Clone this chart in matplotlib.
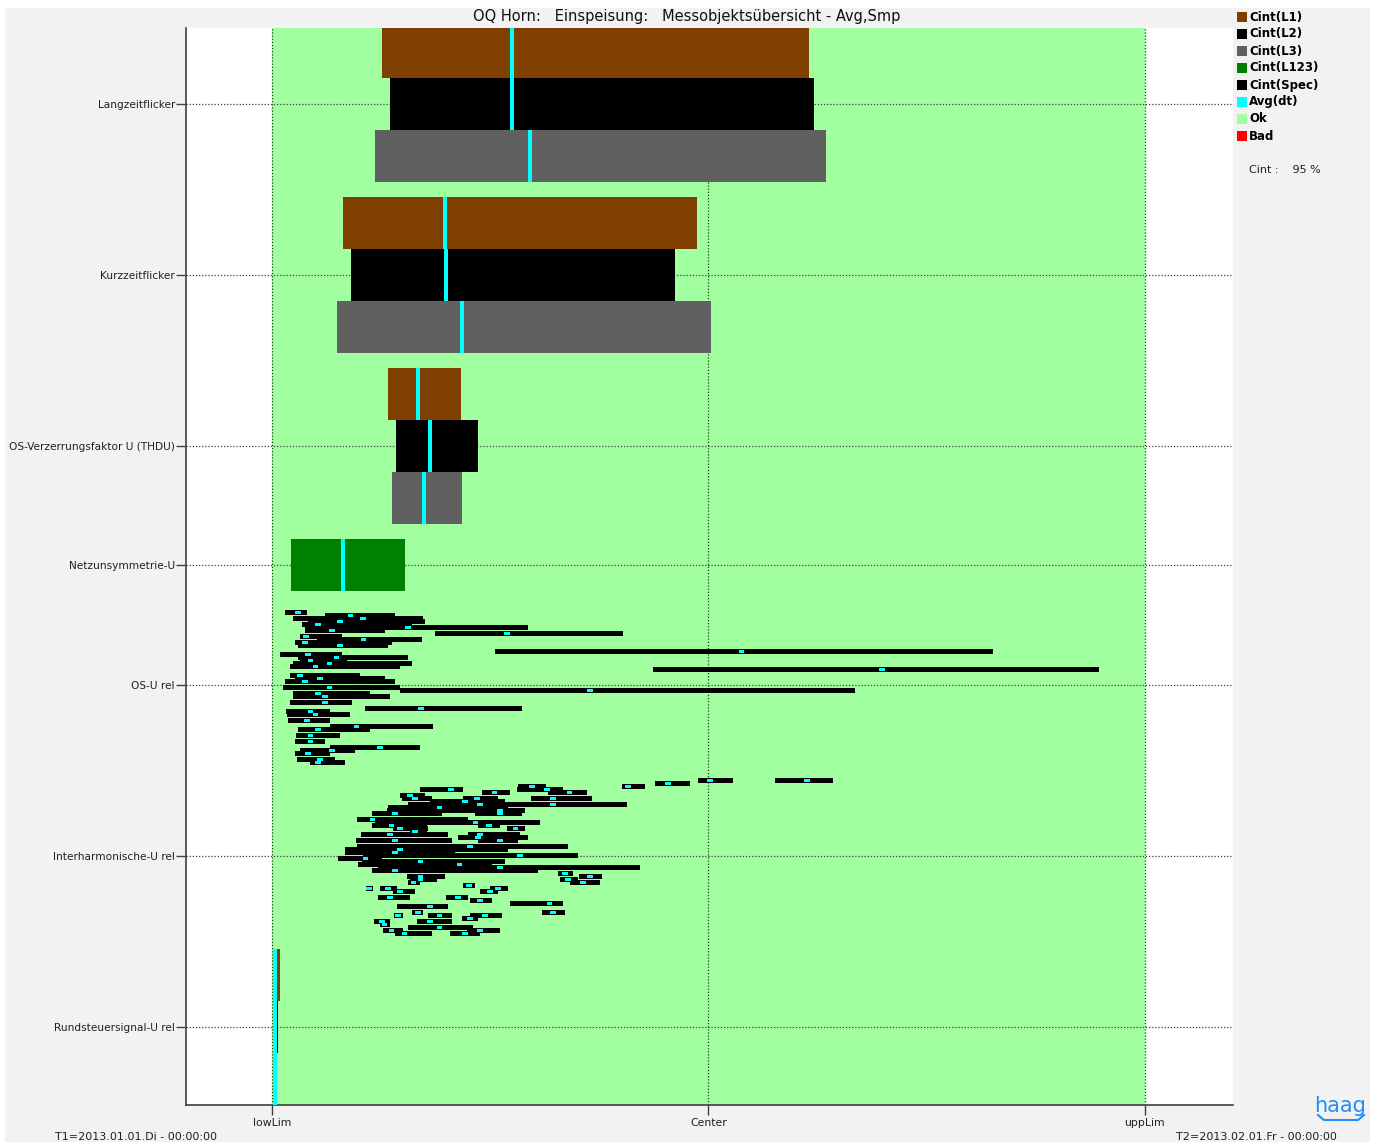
import numpy as np
import matplotlib.pyplot as plt
from matplotlib.patches import Rectangle
from matplotlib.lines import Line2D

# Messobjekte (von oben nach unten)
categories = ["Langzeitflicker", "Kurzzeitflicker", "OS-Verzerrungsfaktor U (THDU)",
              "Netzunsymmetrie-U", "OS-U rel", "Interharmonische-U rel",
              "Rundsteuersignal-U rel"]
xtick_labels = ["lowLim", "Center", "uppLim"]

# Werte in % des Grenzbereichs (lowLim = 0, uppLim = 100), Phasen L1, L2, L3
lz_lo = [12.6, 13.5, 11.8]
lz_hi = [61.5, 62.1, 63.5]
lz_avg = [27.5, 27.5, 29.6]

kz_lo = [8.1, 9.0, 7.4]
kz_hi = [48.7, 46.2, 50.3]
kz_avg = [19.8, 19.9, 21.8]

thd_lo = [13.3, 14.2, 13.7]
thd_hi = [21.6, 23.6, 21.8]
thd_avg = [16.7, 18.1, 17.4]

rs_lo = [0.1, 0.1, 0.1]
rs_hi = [0.9, 0.7, 0.4]
rs_avg = [0.4, 0.4, 0.4]

unb_lo = 2.2
unb_hi = 15.2
unb_avg = 8.1

# OS-U rel: Spektralbalken (Slot von oben, Min, Max, Mittel)
osu_slot = [1, 2, 3, 4, 5, 6, 7, 8, 9, 10, 11, 12, 14, 15, 16, 17, 18, 19, 20, 22,
            23, 24, 26, 27, 28, 29, 31, 33, 34, 35, 37, 39, 40, 42, 44, 46, 47, 48, 50, 51]
osu_lo = [1.5, 6.1, 2.4, 4.1, 3.4, 3.8, 3.8, 18.7, 3.2, 5.2, 2.6, 3.0, 25.5, 0.9, 3.0, 3.2,
          2.4, 2.1, 43.6, 2.1, 2.6, 1.5, 1.3, 14.7, 2.4, 2.4, 2.1, 10.7, 1.6, 1.7, 1.8,
          6.6, 3.0, 2.7, 2.6, 6.6, 3.2, 2.6, 2.9, 4.4]
osu_hi = [4.0, 14.1, 17.3, 17.5, 16.0, 29.3, 12.9, 40.2, 8.0, 17.2, 13.7, 13.3, 82.6, 8.0,
          15.6, 8.6, 16.0, 14.7, 94.7, 10.1, 12.9, 14.1, 14.7, 66.8, 11.2, 13.5, 9.2, 28.6,
          6.6, 8.9, 6.6, 18.4, 11.2, 7.8, 6.1, 17.0, 9.5, 6.6, 7.2, 8.4]
osu_avg = [3.0, 9.0, 10.4, 7.8, 5.3, 15.6, 6.9, 26.9, 3.9, 10.5, 3.8, 7.8, 53.8, 4.1,
           7.4, 4.4, 6.6, 5.0, 69.9, 3.2, 5.5, 3.8, 6.6, 36.4, 5.3, 6.1, 6.1, 17.1, 4.4,
           5.0, 4.0, 9.7, 5.3, 4.4, 4.4, 12.4, 6.9, 4.1, 5.5, 5.3]

# Interharmonische-U rel
ih_slot = [0, 0, 1, 2, 2, 3, 3, 4, 4, 5, 6, 6, 6, 7, 8, 8, 9, 10, 11, 11, 13, 14, 15, 15,
           16, 16, 17, 18, 18, 19, 20, 20, 22, 23, 24, 25, 26, 27, 28, 29, 30, 31, 32, 32,
           33, 33, 34, 34, 35, 36, 36, 36, 37, 37, 39, 39, 40, 41, 42, 44, 44, 45, 45, 45,
           46, 47, 47, 48, 49, 50, 50, 51, 51]
ih_lo = [48.8, 57.6, 43.9, 40.1, 28.2, 17.0, 28.1, 24.1, 31.6, 14.7, 21.9, 14.9, 29.7, 18.1,
         15.6, 29.8, 13.3, 13.2, 11.5, 23.3, 9.7, 11.8, 11.5, 23.6, 13.9, 26.9, 15.8, 10.2,
         22.5, 21.3, 9.6, 23.6, 9.7, 8.4, 8.4, 10.4, 7.6, 10.3, 9.9, 12.1, 11.5, 32.8, 15.5,
         35.2, 15.8, 33.0, 15.6, 34.1, 21.9, 10.8, 12.4, 25.0, 13.9, 23.8, 12.1, 19.9, 22.7,
         27.3, 14.3, 30.9, 16.0, 22.7, 17.9, 14.0, 21.8, 16.6, 11.7, 12.4, 15.6, 12.7, 22.3,
         14.1, 20.4]
ih_hi = [52.8, 64.3, 47.9, 42.7, 31.4, 21.9, 33.3, 27.3, 36.1, 17.5, 25.9, 18.3, 36.7, 26.7,
         31.5, 40.7, 27.0, 29.0, 19.5, 28.6, 22.5, 30.7, 17.8, 26.1, 17.9, 29.0, 17.8, 20.2,
         28.4, 29.3, 20.6, 28.2, 33.9, 27.0, 21.0, 35.1, 12.6, 26.7, 25.2, 42.2, 30.5, 34.5,
         19.8, 37.8, 18.9, 35.1, 17.0, 37.6, 23.3, 11.6, 14.3, 27.0, 16.4, 25.9, 15.8, 22.5,
         25.2, 33.3, 20.2, 33.6, 17.3, 26.3, 20.6, 15.0, 23.6, 20.6, 13.5, 13.5, 23.0, 15.0,
         26.1, 18.3, 23.8]
ih_avg = [50.2, 61.3, 45.4, 40.8, 29.8, 20.5, 31.5, 25.5, 34.1, 15.8, 23.5, 16.4, 32.2, 22.1,
          23.8, 32.2, 19.2, 26.1, 14.1, 26.1, 11.5, 23.3, 13.7, 24.9, 14.7, 27.9, 16.4, 13.5,
          23.8, 23.6, 14.1, 26.1, 22.7, 14.7, 14.1, 28.4, 10.7, 17.0, 21.5, 26.1, 14.1, 33.6,
          17.0, 36.4, 17.0, 33.9, 16.2, 35.6, 22.6, 11.1, 13.3, 25.9, 14.7, 25.0, 13.5, 21.3,
          23.8, 31.8, 18.1, 32.2, 16.7, 24.4, 19.2, 14.4, 22.7, 18.1, 12.6, 12.9, 19.2, 13.7,
          23.8, 15.2, 22.1]

legend_labels = ["Cint(L1)", "Cint(L2)", "Cint(L3)", "Cint(L123)", "Cint(Spec)",
                 "Avg(dt)", "Ok", "Bad"]

c_l1 = "#7f3f00"
c_l2 = "#000000"
c_l3 = "#606060"
c_l123 = "#008000"
c_spec = "#000000"
c_avg = "#00ffff"
c_ok = "#a2ffa0"
c_bad = "#ff0000"
legend_colors = [c_l1, c_l2, c_l3, c_l123, c_spec, c_avg, c_ok, c_bad]
phase_colors = [c_l1, c_l2, c_l3]

row_pos = [0, 1, 2, 2.7, 3.4, 4.4, 5.4]
bar_h = 0.304
avg_w = 0.46
spec_avg_w = 0.65
slot_step = 0.01755
spec_h = 0.026

plt.rcParams['font.family'] = ['DejaVu Sans']
fig = plt.figure(figsize=(13.75, 11.42), dpi=100, facecolor="white")
fig.patches.append(Rectangle((5 / 1375, 0), 1365 / 1375, 1 - 8 / 1142,
                             transform=fig.transFigure, facecolor="#f2f2f2",
                             edgecolor="none", zorder=-10))
ax = fig.add_axes([186 / 1375, 1 - 1105 / 1142, 1047 / 1375, 1077 / 1142])
ax.set_facecolor("white")

ax.set_xlim(-9.85, 110.1)
ax.set_ylim(5.857, -0.445)

# Ok-Bereich
ax.axvspan(0, 100, color=c_ok, zorder=0, lw=0)
for xv in [0, 50, 100]:
    ax.axvline(xv, color="#1f3f1f", lw=0.9, ls=(0, (1, 1.5)), zorder=1)
for yv in row_pos:
    ax.axhline(yv, color="#404040", lw=0.9, ls=(0, (1, 1.5)), zorder=1)


def phase_bars(center, lo, hi, avg):
    for k in range(3):
        yc = center + (k - 1) * bar_h
        ax.barh(yc, hi[k] - lo[k], left=lo[k], height=bar_h,
                color=phase_colors[k], lw=0, zorder=2)
        ax.barh(yc, avg_w, left=avg[k] - avg_w / 2, height=bar_h,
                color=c_avg, lw=0, zorder=3)


phase_bars(row_pos[0], lz_lo, lz_hi, lz_avg)
phase_bars(row_pos[1], kz_lo, kz_hi, kz_avg)
phase_bars(row_pos[2], thd_lo, thd_hi, thd_avg)
phase_bars(row_pos[6], rs_lo, rs_hi, rs_avg)

ax.barh(row_pos[3], unb_hi - unb_lo, left=unb_lo, height=bar_h, color=c_l123,
        lw=0, zorder=2)
ax.barh(row_pos[3], avg_w, left=unb_avg - avg_w / 2, height=bar_h, color=c_avg,
        lw=0, zorder=3)


def spec_bars(center, slots, lo, hi, avg):
    y = center - 0.455 + np.array(slots) * slot_step + spec_h / 2
    lo = np.array(lo)
    hi = np.array(hi)
    ax.barh(y, hi - lo, left=lo, height=spec_h, color=c_spec, lw=0, zorder=2)
    ax.barh(y, spec_avg_w, left=np.array(avg) - spec_avg_w / 2, height=spec_h * 0.85,
            color=c_avg, lw=0, zorder=3)


spec_bars(row_pos[4], osu_slot, osu_lo, osu_hi, osu_avg)
spec_bars(row_pos[5], ih_slot, ih_lo, ih_hi, ih_avg)

ax.set_yticks(row_pos)
ax.set_yticklabels(categories, fontsize=7.6, color="#202020")
ax.set_xticks([0, 50, 100])
ax.set_xticklabels(xtick_labels, fontsize=7.8, color="#202020")
ax.tick_params(axis="y", length=7, width=1, color="#404040", pad=1)
ax.tick_params(axis="x", length=7, width=1, color="#404040", pad=2)
for side in ["top", "right"]:
    ax.spines[side].set_visible(False)
for side in ["left", "bottom"]:
    ax.spines[side].set_color("#404040")
    ax.spines[side].set_linewidth(1.2)

fig.text(687 / 1375, 1 - 17 / 1142, "OQ Horn:   Einspeisung:   Messobjektsübersicht - Avg,Smp",
         ha="center", va="center", fontsize=10.5, color="#101010")

# Legende
for i, (lab, col) in enumerate(zip(legend_labels, legend_colors)):
    yc = 1 - (17 + 17 * i) / 1142
    fig.patches.append(Rectangle((1237 / 1375, yc - 5 / 1142), 10 / 1375, 10 / 1142,
                                 transform=fig.transFigure, facecolor=col,
                                 edgecolor="none"))
    fig.text(1249 / 1375, yc, lab, ha="left", va="center", fontsize=8.5,
             fontweight="bold", color="black")
fig.text(1249 / 1375, 1 - 170 / 1142, "Cint :    95 %", ha="left", va="center",
         fontsize=8, color="#202020")

fig.text(55 / 1375, 1 - 1137 / 1142, "T1=2013.01.01.Di - 00:00:00", ha="left",
         va="center", fontsize=8, color="#202020")
fig.text(1337 / 1375, 1 - 1137 / 1142, "T2=2013.02.01.Fr - 00:00:00", ha="right",
         va="center", fontsize=8, color="#202020")

# Logo
fig.text(1340 / 1375, 1 - 1106 / 1142, "haag", ha="center", va="center", fontsize=15,
         color="#1e8fff")
fig.add_artist(Line2D([1318 / 1375, 1324 / 1375, 1358 / 1375, 1364 / 1375],
                      [1 - 1115 / 1142, 1 - 1120 / 1142, 1 - 1120 / 1142, 1 - 1115 / 1142],
                      transform=fig.transFigure, color="#1e8fff", lw=1.5))

fig.savefig("out.png", dpi=100, facecolor=fig.get_facecolor())
